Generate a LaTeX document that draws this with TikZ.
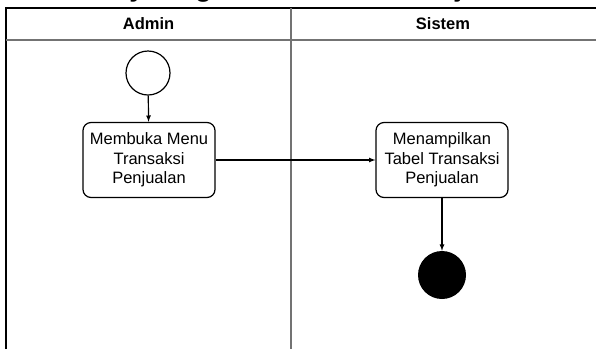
\documentclass[tikz,border=0pt]{standalone}
\usepackage{fontspec}
\setmainfont{Liberation Sans}
\tikzset{
  lanetext/.style={font=\fontsize{16.5}{19.5}\selectfont\bfseries},
  actbox/.style={draw, rounded corners=8pt, line width=1.2pt, minimum width=132pt,
    minimum height=75pt, align=center, inner sep=0pt, font=\fontsize{16.5}{19.5}\selectfont},
  startnode/.style={draw, circle, line width=1.2pt, minimum size=44pt, inner sep=0pt},
  endnode/.style={fill, circle, minimum size=48pt, inner sep=0pt},
}
\begin{document}
\begin{tikzpicture}[x=1pt, y=-1pt]
    \useasboundingbox (0,0) rectangle (596,349);
    \begin{scope}
      \clip (0,0) rectangle (596,349);
      \node[font=\fontsize{27.5}{30}\selectfont\bfseries, anchor=base, inner sep=0pt] (judul) at (290,-4) {Activity Diagram Transaksi Penjualan};
    \end{scope}

    \draw[line width=2pt] (6,349) |- (596,8);
    \draw[black!55, line width=1.2pt] (6,40) -- (596,40);
    \draw[black!55, line width=1.2pt] (291,8) -- (291,349);
    \node[lanetext] (admin)  at (148.5,24) {Admin};
    \node[lanetext] (sistem) at (443,24)   {Sistem};

    \node[startnode] (mulai)  at (148,73)  {};
    \node[actbox]    (buka)   at (149,160) {Membuka Menu\\Transaksi\\Penjualan};
    \node[actbox]    (tampil) at (442,160) {Menampilkan\\Tabel Transaksi\\Penjualan};
    \node[endnode]   (selesai) at (442,275) {};

    \draw[-latex, line width=1.2pt] (mulai) -- (buka);
    \draw[-latex, line width=1.2pt] (buka) -- (tampil);
    \draw[-latex, line width=1.2pt] (tampil) -- (selesai);
  \end{tikzpicture}
\end{document}
